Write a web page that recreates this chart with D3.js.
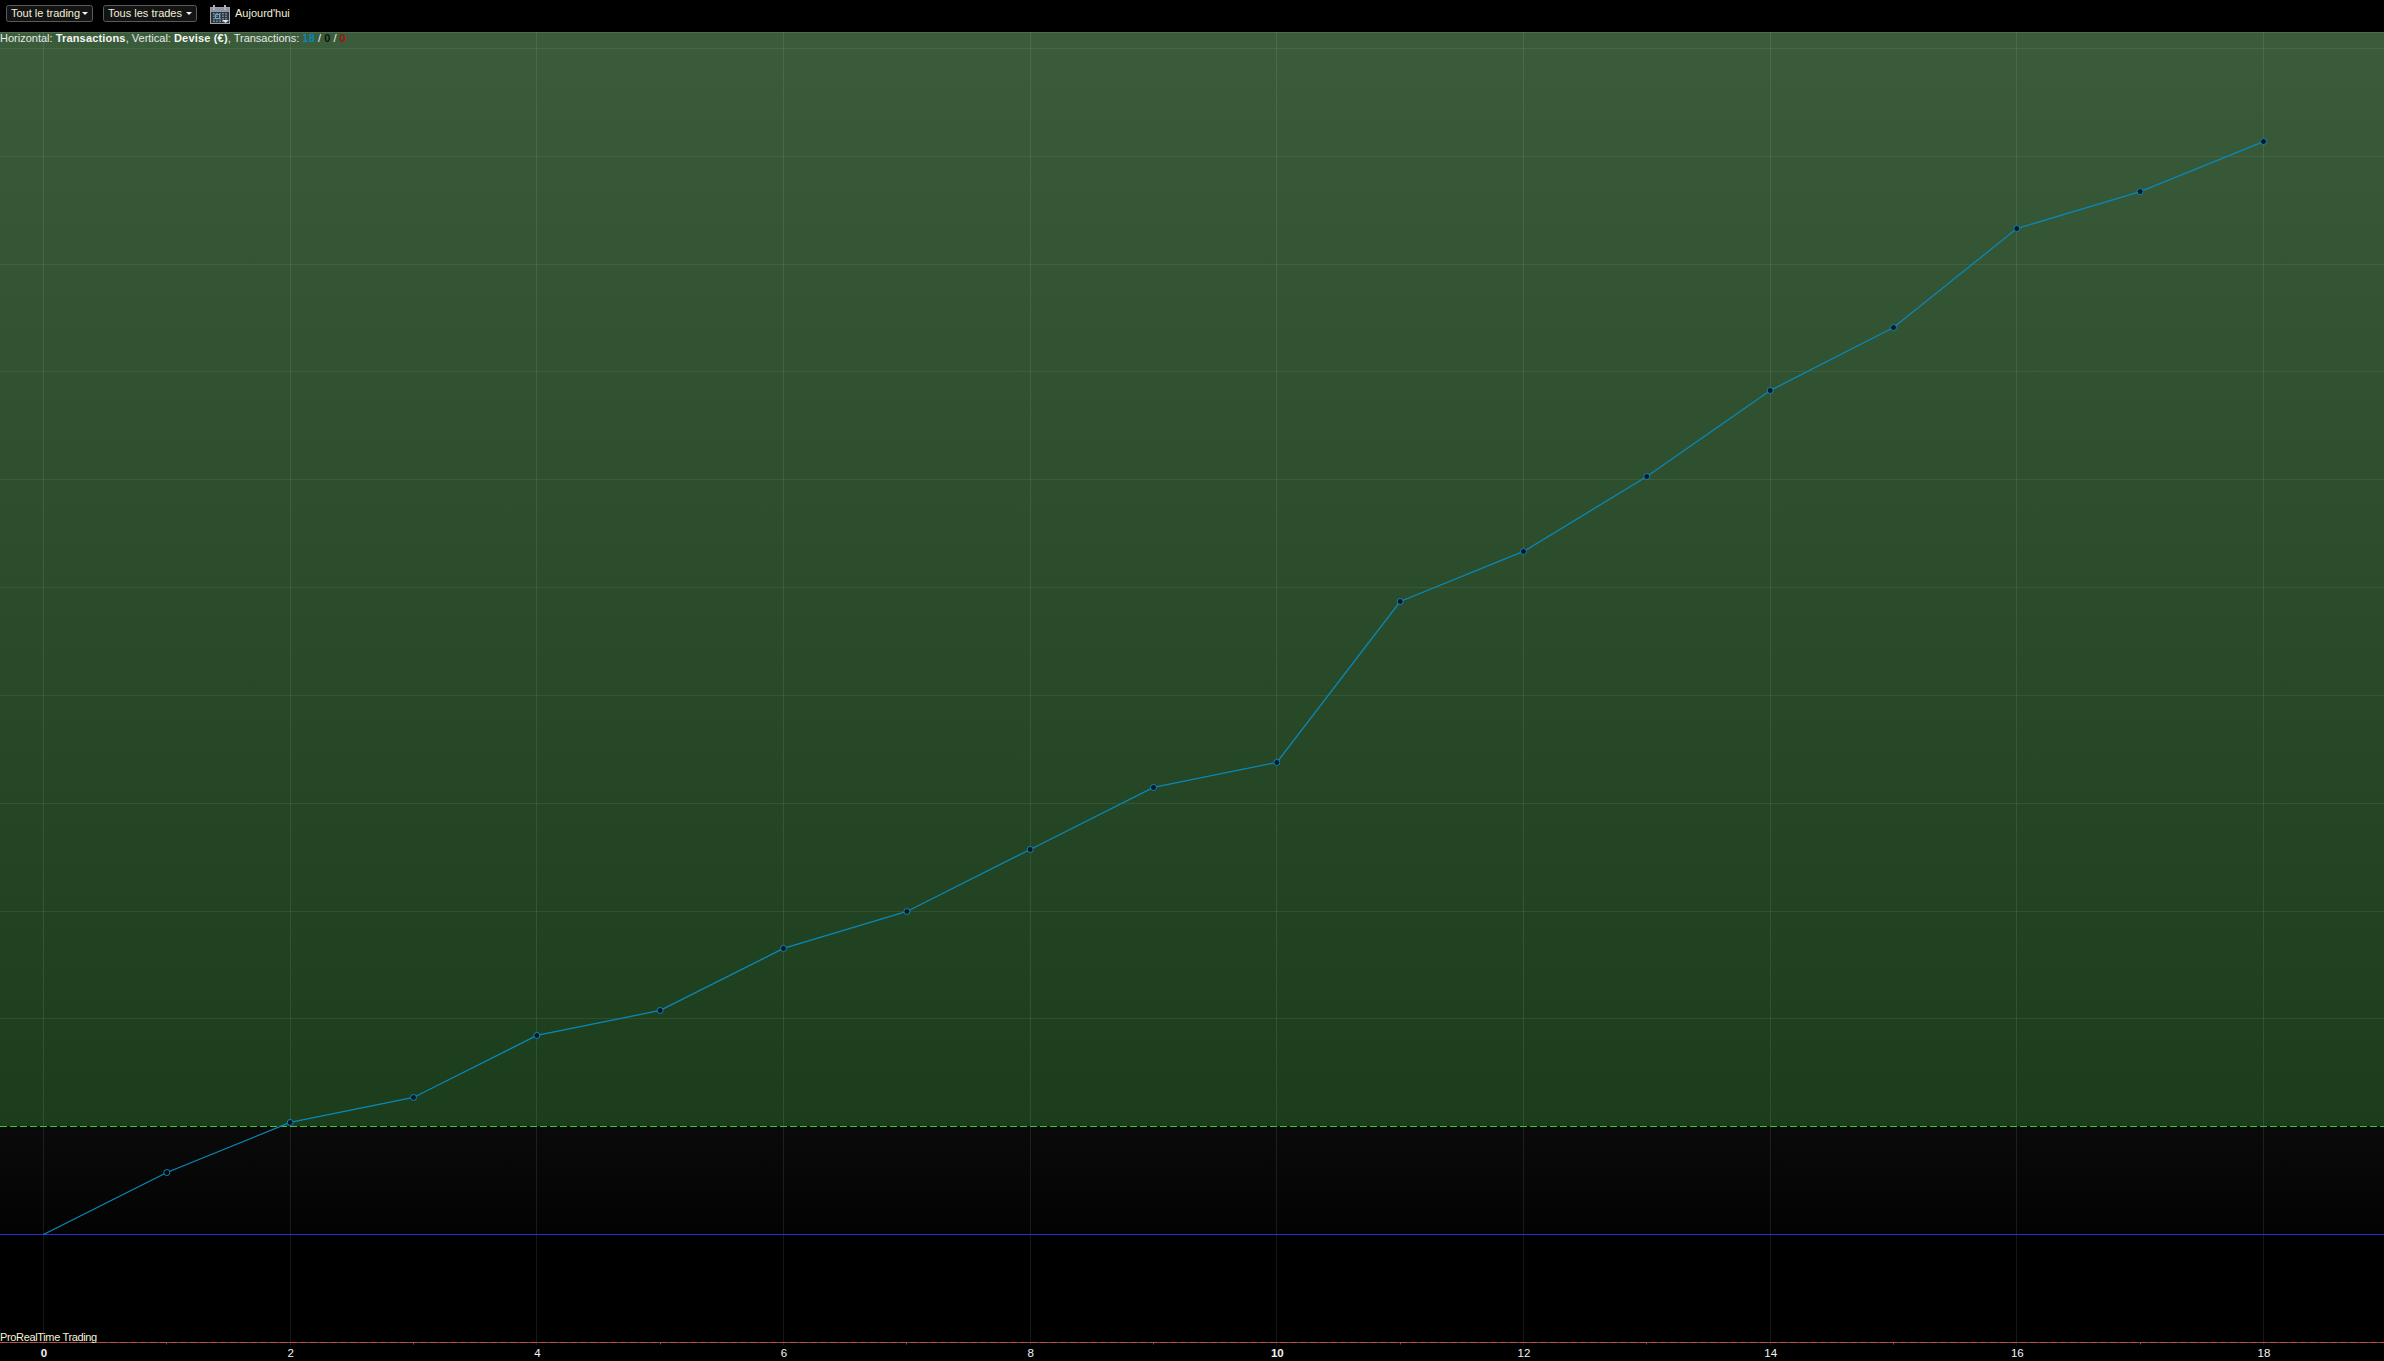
<!DOCTYPE html>
<html><head><meta charset="utf-8">
<script src="https://cdn.jsdelivr.net/npm/d3@7/dist/d3.min.js"></script>
<style>
html,body{margin:0;padding:0;background:#000;overflow:hidden}
svg{display:block}
text{font-family:"Liberation Sans",Arial,sans-serif;font-size:11px;fill:#f2f2f2}
</style></head><body>
<svg id="c" width="2384" height="1361"></svg>
<script>
const transactions=[0,1,2,3,4,5,6,7,8,9,10,11,12,13,14,15,16,17,18];
const equity=[0,57.5,103.9,127.1,184.6,207.8,265.3,299.6,357.1,414.6,437.8,587.1,633.5,703.0,782.8,841.2,933.0,967.3,1013.7];
const xGridTicks=[0,2,4,6,8,10,12,14,16,18];
const xMinorTicks=[1,3,5,7,9,11,13,15,17];
const boldTicks=[0,10];
const yGridValues=[200,300,400,500,600,700,800,900,1000,1100];
const referenceLevel=100;
const lossLevel=-100;
const toolbarMenus=["Tout le trading","Tous les trades"];
const todayLabel="Aujourd'hui";
const infoParts=[["Horizontal: ",400,"#e8e8e8"],["Transactions",700,"#f4f4f4"],[", Vertical: ",400,"#e8e8e8"],["Devise (€)",700,"#f4f4f4"],[", Transactions: ",400,"#e8e8e8"],["18",700,"#0a86b8"],[" / ",400,"#f0f0f0"],["0",700,"#111"],[" / ",400,"#f0f0f0"],["0",700,"#a81010"]];
const brandLabel="ProRealTime Trading";

const svg=d3.select("#c");
const W=2384,H=1361;
const x=d3.scaleLinear().domain([0,18]).range([43.5,2263.5]);
const y=d3.scaleLinear().domain([0,1100]).range([1234.5,48.5]);
const plotTop=32,axisY=1342.5;
const crisp=v=>Math.floor(v)+0.5;

const defs=svg.append("defs");
const g1=defs.append("linearGradient").attr("id","profit").attr("x1",0).attr("x2",0).attr("y1",0).attr("y2",1);
g1.append("stop").attr("offset",0).attr("stop-color","#3a5c3a");
g1.append("stop").attr("offset",1).attr("stop-color","#1b3d1b");
const g2=defs.append("linearGradient").attr("id","lower").attr("x1",0).attr("x2",0).attr("y1",0).attr("y2",1);
g2.append("stop").attr("offset",0).attr("stop-color","#0a0a0a");
g2.append("stop").attr("offset",1).attr("stop-color","#030303");

svg.append("rect").attr("width",W).attr("height",H).attr("fill","#000");
svg.append("rect").attr("x",0).attr("y",plotTop).attr("width",W).attr("height",crisp(y(referenceLevel))-plotTop).attr("fill","url(#profit)");
svg.append("rect").attr("x",0).attr("y",crisp(y(referenceLevel))).attr("width",W).attr("height",y(0)-y(referenceLevel)).attr("fill","url(#lower)");
svg.append("line").attr("x1",0).attr("x2",W).attr("y1",plotTop+.5).attr("y2",plotTop+.5).attr("stroke","#fff").attr("stroke-opacity",.1);

// horizontal grid
svg.append("g").selectAll("line").data(yGridValues).join("line")
 .attr("x1",0).attr("x2",W).attr("y1",d=>crisp(y(d))).attr("y2",d=>crisp(y(d)))
 .attr("stroke","#fff").attr("stroke-opacity",.07);

// vertical grid + axis
const xAxis=d3.axisBottom(x).tickValues(xGridTicks).tickSize(0).tickPadding(0).tickFormat(d3.format("d"));
const ax=svg.append("g").attr("transform",`translate(0,${axisY})`).call(xAxis);
ax.select(".domain").remove();
ax.selectAll("text").attr("y",6.5).attr("dy","0.71em")
  .style("font-family",'"Liberation Sans",Arial,sans-serif').style("font-size","11.5px")
  .style("font-weight",d=>boldTicks.includes(d)?700:400).style("fill","#f4f4f4");
svg.append("g").selectAll("line").data(xGridTicks).join("line")
 .attr("x1",d=>crisp(x(d))).attr("x2",d=>crisp(x(d))).attr("y1",plotTop).attr("y2",axisY+3)
 .attr("stroke","#fff").attr("stroke-opacity",.09);
svg.append("g").selectAll("line").data(xMinorTicks).join("line")
 .attr("x1",d=>crisp(x(d))).attr("x2",d=>crisp(x(d))).attr("y1",axisY).attr("y2",axisY+2)
 .attr("stroke","#555");

// reference lines
svg.append("line").attr("x1",0).attr("x2",W).attr("y1",crisp(y(referenceLevel))).attr("y2",crisp(y(referenceLevel)))
 .attr("stroke","#3fc13f").attr("stroke-dasharray","7 3");
svg.append("line").attr("x1",0).attr("x2",W).attr("y1",crisp(y(0))).attr("y2",crisp(y(0))).attr("stroke","#2b2bd6");
svg.append("line").attr("x1",0).attr("x2",W).attr("y1",axisY).attr("y2",axisY).attr("stroke","#5a5a5a");
svg.append("line").attr("x1",0).attr("x2",W).attr("y1",axisY).attr("y2",axisY)
 .attr("stroke","#d04a4a").attr("stroke-dasharray","7 3");

// equity
const pts=transactions.map((t,i)=>({t,v:equity[i]}));
const line=d3.line().x(d=>x(d.t)).y(d=>y(d.v));
svg.append("path").datum(pts).attr("d",line).attr("fill","none").attr("stroke","#0a88ba").attr("stroke-width",1.3);
svg.append("g").selectAll("circle").data(pts.slice(1)).join("circle")
 .attr("cx",d=>x(d.t)).attr("cy",d=>y(d.v)).attr("r",3)
 .attr("fill",d=>y(d.v)>y(referenceLevel)?"#000":"#0a1628").attr("stroke","#0a88ba").attr("stroke-width",1);

// info line
const info=svg.append("text").attr("x",0).attr("y",42).attr("xml:space","preserve").style("white-space","pre");
infoParts.forEach(p=>info.append("tspan").text(p[0]).style("font-weight",p[1]).style("fill",p[2]).style("letter-spacing",p[1]===700?"0.18px":"0"));
svg.append("text").attr("x",0).attr("y",1341).text(brandLabel).style("fill","#f6f3d8").style("letter-spacing","-0.35px");

// toolbar
const btn=[[6,86],[103,93]];
toolbarMenus.forEach((m,i)=>{
 const [bx,bw]=btn[i];
 svg.append("rect").attr("x",bx+.5).attr("y",5.5).attr("width",bw).attr("height",16).attr("rx",2).attr("fill","#141414").attr("stroke","#5a5a5a");
 svg.append("text").attr("x",bx+5).attr("y",17).text(m).style("fill","#f2efd8");
 const ax0=bx+bw-7;
 svg.append("path").attr("d",`M${ax0-3},12 h6 l-3,3 z`).attr("fill","#f4f4f4");
});
const cal=svg.append("g").attr("transform","translate(210,5)");
cal.append("rect").attr("x",.5).attr("y",2.5).attr("width",19).attr("height",16).attr("fill","#31353c").attr("stroke","#9aa3ad");
cal.append("rect").attr("x",1).attr("y",3).attr("width",18).attr("height",4).attr("fill","#8d96a2");
cal.selectAll("rect.h").data([3,14]).join("rect").attr("class","h").attr("x",d=>d).attr("y",0).attr("width",2).attr("height",5).attr("fill","#a9b1ba");
d3.range(4).forEach(r=>d3.range(5).forEach(c=>cal.append("rect").attr("x",3+c*3).attr("y",8+r*2.5).attr("width",2).attr("height",1.5).attr("fill","#747c87")));
cal.append("rect").attr("x",5.5).attr("y",9.5).attr("width",4).attr("height",4).attr("fill","none").attr("stroke","#4ab4e8");
cal.append("path").attr("d","M12,15 h7 l-3.5,3 z").attr("fill","#dfe3e8");
svg.append("text").attr("x",235).attr("y",17).text(todayLabel).style("fill","#f2efd8");
</script></body></html>
